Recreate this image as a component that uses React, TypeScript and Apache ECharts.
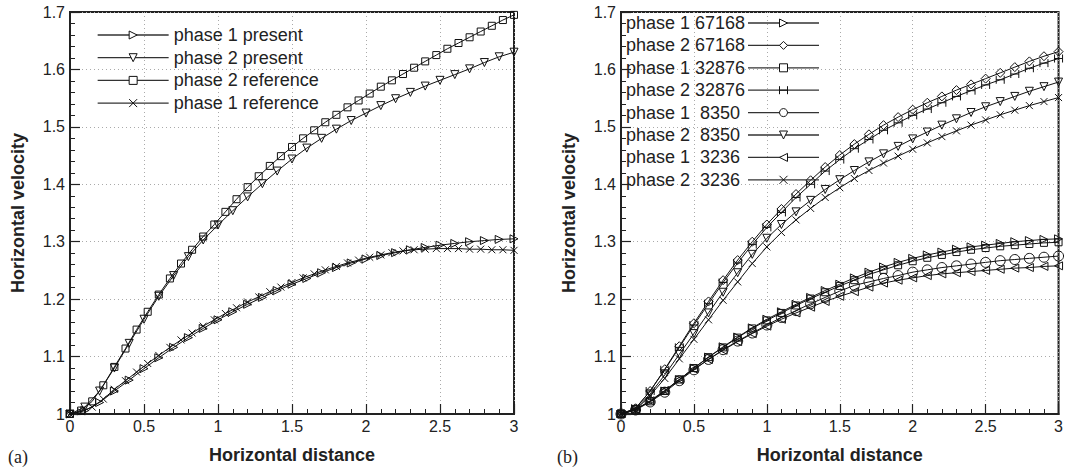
import React, { useEffect, useRef } from "react";
import * as echarts from "echarts";

// ---------- data ----------
const xStep01 = [0, 0.1, 0.2, 0.3, 0.4, 0.5, 0.6, 0.7, 0.8, 0.9, 1.0, 1.1, 1.2, 1.3, 1.4, 1.5, 1.6, 1.7, 1.8, 1.9, 2.0, 2.1, 2.2, 2.3, 2.4, 2.5, 2.6, 2.7, 2.8, 2.9, 3.0];
const xStep0075 = [0, 0.075, 0.15, 0.225, 0.3, 0.375, 0.45, 0.525, 0.6, 0.675, 0.75, 0.825, 0.9, 0.975, 1.05, 1.125, 1.2, 1.275, 1.35, 1.425, 1.5, 1.575, 1.65, 1.725, 1.8, 1.875, 1.95, 2.025, 2.1, 2.175, 2.25, 2.325, 2.4, 2.475, 2.55, 2.625, 2.7, 2.775, 2.85, 2.925, 3.0];

// (a) left panel
const aPhase1Present = [1.000, 1.006, 1.020, 1.040, 1.059, 1.079, 1.098, 1.116, 1.133, 1.149, 1.164, 1.178, 1.191, 1.203, 1.215, 1.226, 1.236, 1.246, 1.255, 1.263, 1.270, 1.276, 1.281, 1.286, 1.290, 1.294, 1.297, 1.300, 1.302, 1.304, 1.305];
const aPhase2Present = [1.000, 1.012, 1.040, 1.080, 1.123, 1.165, 1.205, 1.241, 1.274, 1.303, 1.329, 1.354, 1.378, 1.401, 1.423, 1.444, 1.463, 1.480, 1.496, 1.511, 1.524, 1.537, 1.549, 1.560, 1.571, 1.581, 1.591, 1.601, 1.612, 1.622, 1.630];
const aPhase2Reference = [1.000, 1.006, 1.022, 1.050, 1.082, 1.114, 1.147, 1.178, 1.208, 1.236, 1.262, 1.286, 1.309, 1.330, 1.352, 1.374, 1.395, 1.414, 1.432, 1.449, 1.465, 1.480, 1.494, 1.508, 1.521, 1.534, 1.546, 1.558, 1.570, 1.581, 1.592, 1.603, 1.614, 1.625, 1.636, 1.646, 1.656, 1.666, 1.676, 1.686, 1.695];
const aPhase1Reference = [1.000, 1.004, 1.012, 1.026, 1.043, 1.058, 1.073, 1.088, 1.102, 1.116, 1.129, 1.141, 1.153, 1.164, 1.175, 1.185, 1.195, 1.204, 1.213, 1.221, 1.229, 1.237, 1.244, 1.251, 1.257, 1.263, 1.268, 1.273, 1.277, 1.281, 1.284, 1.286, 1.287, 1.288, 1.288, 1.288, 1.287, 1.287, 1.286, 1.286, 1.285];

// (b) right panel
const bPhase1_67168 = [1.000, 1.008, 1.022, 1.040, 1.060, 1.080, 1.099, 1.117, 1.134, 1.150, 1.165, 1.178, 1.191, 1.203, 1.215, 1.226, 1.237, 1.247, 1.256, 1.264, 1.271, 1.277, 1.282, 1.287, 1.291, 1.294, 1.297, 1.300, 1.302, 1.304, 1.305];
const bPhase2_67168 = [1.000, 1.010, 1.040, 1.078, 1.118, 1.158, 1.196, 1.233, 1.268, 1.300, 1.330, 1.357, 1.383, 1.407, 1.430, 1.451, 1.470, 1.487, 1.503, 1.517, 1.530, 1.542, 1.553, 1.564, 1.574, 1.584, 1.594, 1.604, 1.614, 1.623, 1.631];
const bPhase1_32876 = [1.000, 1.008, 1.022, 1.040, 1.060, 1.080, 1.099, 1.116, 1.133, 1.149, 1.163, 1.176, 1.189, 1.201, 1.212, 1.223, 1.233, 1.243, 1.251, 1.259, 1.266, 1.272, 1.277, 1.282, 1.286, 1.289, 1.292, 1.294, 1.296, 1.298, 1.299];
const bPhase2_32876 = [1.000, 1.010, 1.040, 1.077, 1.116, 1.155, 1.192, 1.229, 1.263, 1.295, 1.325, 1.351, 1.377, 1.400, 1.423, 1.443, 1.462, 1.478, 1.494, 1.507, 1.520, 1.531, 1.542, 1.553, 1.563, 1.573, 1.582, 1.592, 1.602, 1.611, 1.619];
const bPhase1_8350 = [1.000, 1.007, 1.021, 1.038, 1.058, 1.077, 1.095, 1.112, 1.127, 1.141, 1.155, 1.168, 1.180, 1.192, 1.203, 1.214, 1.224, 1.230, 1.236, 1.241, 1.247, 1.251, 1.255, 1.258, 1.261, 1.264, 1.267, 1.269, 1.271, 1.273, 1.275];
const bPhase2_8350 = [1.000, 1.008, 1.035, 1.068, 1.104, 1.140, 1.176, 1.212, 1.246, 1.278, 1.306, 1.330, 1.352, 1.372, 1.391, 1.408, 1.424, 1.439, 1.453, 1.466, 1.479, 1.491, 1.503, 1.514, 1.525, 1.535, 1.544, 1.553, 1.562, 1.570, 1.578];
const bPhase1_3236 = [1.000, 1.008, 1.023, 1.041, 1.060, 1.078, 1.095, 1.111, 1.126, 1.140, 1.153, 1.165, 1.176, 1.186, 1.196, 1.205, 1.213, 1.221, 1.228, 1.233, 1.237, 1.241, 1.244, 1.246, 1.248, 1.250, 1.252, 1.254, 1.255, 1.257, 1.258];
const bPhase2_3236 = [1.000, 1.007, 1.032, 1.062, 1.096, 1.130, 1.164, 1.198, 1.230, 1.262, 1.291, 1.316, 1.338, 1.358, 1.377, 1.394, 1.410, 1.424, 1.437, 1.449, 1.461, 1.472, 1.483, 1.493, 1.503, 1.512, 1.521, 1.529, 1.537, 1.544, 1.551];

const xTicks = [0, 0.5, 1, 1.5, 2, 2.5, 3];
const yTicks = [1, 1.1, 1.2, 1.3, 1.4, 1.5, 1.6, 1.7];
const xTitle = "Horizontal distance";
const yTitle = "Horizontal velocity";
const legendA = ["phase 1 present", "phase 2 present", "phase 2 reference", "phase 1 reference"];
const legendB = ["phase 1 67168", "phase 2 67168", "phase 1 32876", "phase 2 32876", "phase 1  8350", "phase 2  8350", "phase 1  3236", "phase 2  3236"];

// ---------- symbols ----------
const SYM_RIGHT = "path://M0,0L10,5L0,10Z";
const SYM_LEFT = "path://M10,0L0,5L10,10Z";
const SYM_DOWN = "path://M0,0L10,0L5,9Z";
const SYM_CROSS = "path://M0,0L10,10M10,0L0,10";
const SYM_H = "path://M1,0L1,10M9,0L9,10M1,5L9,5";

const INK = "#111";
const SANS = "'Liberation Sans', Arial, Helvetica, sans-serif";
const HOLLOW = "rgba(255,255,255,0)";

function zip(xs: number[], ys: number[]) {
  return xs.map((x, i) => [x, ys[i]]);
}

function mk(name: string, xs: number[], ys: number[], symbol: string, gi: number, size = 8) {
  return {
    type: "line",
    name,
    xAxisIndex: gi,
    yAxisIndex: gi,
    data: zip(xs, ys),
    symbol,
    symbolSize: size,
    showSymbol: true,
    showAllSymbol: true,
    silent: true,
    lineStyle: { color: INK, width: 1 },
    itemStyle: { color: HOLLOW, borderColor: INK, borderWidth: 1 },
    emphasis: { disabled: true },
  };
}

function xAxis(gi: number) {
  return {
    type: "value",
    gridIndex: gi,
    min: 0,
    max: 3,
    interval: 0.5,
    name: xTitle,
    nameLocation: "middle",
    nameGap: 32,
    nameTextStyle: { fontFamily: SANS, fontWeight: "bold", fontSize: 18, color: "#222" },
    axisLine: { show: true, onZero: false, lineStyle: { color: "#222", width: 2 } },
    axisTick: { show: true, inside: true, length: 10, lineStyle: { color: "#222", width: 1.2 } },
    minorTick: { show: true, splitNumber: 5, length: 5, lineStyle: { color: "#222", width: 1 } },
    axisLabel: {
      fontFamily: SANS,
      fontSize: 16,
      color: "#222",
      margin: 4,
      formatter: (v: number) => String(xTicks.find((t) => Math.abs(t - v) < 1e-9) ?? v),
    },
    splitLine: { show: true, lineStyle: { color: "#aaa", type: [1, 3], width: 1 } },
  };
}

function yAxis(gi: number) {
  return {
    type: "value",
    gridIndex: gi,
    min: 1,
    max: 1.7,
    interval: 0.1,
    name: yTitle,
    nameLocation: "middle",
    nameGap: 43,
    nameTextStyle: { fontFamily: SANS, fontWeight: "bold", fontSize: 18, color: "#222" },
    axisLine: { show: true, onZero: false, lineStyle: { color: "#222", width: 2 } },
    axisTick: { show: true, inside: true, length: 10, lineStyle: { color: "#222", width: 1.2 } },
    minorTick: { show: true, splitNumber: 5, length: 5, lineStyle: { color: "#222", width: 1 } },
    axisLabel: {
      fontFamily: SANS,
      fontSize: 16,
      color: "#222",
      margin: 5,
      formatter: (v: number) => {
        const t = yTicks.find((k) => Math.abs(k - v) < 1e-9);
        return t === undefined ? "" : String(t);
      },
    },
    splitLine: { show: true, lineStyle: { color: "#aaa", type: [1, 3], width: 1 } },
  };
}

export default function App() {
  const ref = useRef<HTMLDivElement>(null);
  useEffect(() => {
    if (!ref.current) return;
    const chart = echarts.init(ref.current, null, { renderer: "svg" });
    const series = [
      mk(legendA[0], xStep01, aPhase1Present, SYM_RIGHT, 0),
      mk(legendA[1], xStep01, aPhase2Present, SYM_DOWN, 0),
      mk(legendA[2], xStep0075, aPhase2Reference, "rect", 0, 7),
      mk(legendA[3], xStep0075, aPhase1Reference, SYM_CROSS, 0, 7),
      mk(legendB[0], xStep01, bPhase1_67168, SYM_RIGHT, 1),
      mk(legendB[1], xStep01, bPhase2_67168, "diamond", 1, 9),
      mk(legendB[2], xStep01, bPhase1_32876, "rect", 1, 7),
      mk(legendB[3], xStep01, bPhase2_32876, SYM_H, 1, 8),
      mk(legendB[4], xStep01, bPhase1_8350, "circle", 1, 10),
      mk(legendB[5], xStep01, bPhase2_8350, SYM_DOWN, 1),
      mk(legendB[6], xStep01, bPhase1_3236, SYM_LEFT, 1),
      mk(legendB[7], xStep01, bPhase2_3236, SYM_CROSS, 1, 7),
    ];
    const legendText = { fontFamily: SANS, fontSize: 18, color: "#222", lineHeight: 18 };
    const legendItem = { color: "#fff", borderColor: INK, borderWidth: 1 };
    const legendLine = { color: "#333", width: 1.3 };
    chart.setOption({
      animation: false,
      backgroundColor: "#fff",
      grid: [
        { left: 70, top: 12, width: 444, height: 406, show: true, borderColor: "#222", borderWidth: 2, backgroundColor: "transparent" },
        { left: 621, top: 12, width: 444, height: 406, show: true, borderColor: "#222", borderWidth: 2, backgroundColor: "transparent" },
      ],
      xAxis: [xAxis(0), xAxis(1)],
      yAxis: [yAxis(0), yAxis(1)],
      legend: [
        {
          data: legendA,
          orient: "vertical",
          left: 97,
          top: 26,
          padding: 0,
          itemWidth: 71,
          itemHeight: 10,
          itemGap: 4.7,
          selectedMode: false,
          itemStyle: legendItem,
          lineStyle: legendLine,
          textStyle: legendText,
        },
        {
          data: legendB,
          orient: "vertical",
          align: "right",
          left: 626,
          top: 14,
          padding: 0,
          itemWidth: 71,
          itemHeight: 10,
          itemGap: 4.4,
          selectedMode: false,
          itemStyle: legendItem,
          lineStyle: legendLine,
          formatter: (name: string) => `{t|${name}}`,
          textStyle: {
            ...legendText,
            rich: { t: { width: 117, align: "left", fontFamily: SANS, fontSize: 18, color: "#222", lineHeight: 18 } },
          },
        },
      ],
      graphic: [
        { type: "text", left: 8, top: 448, style: { text: "(a)", font: "18px 'Liberation Serif', 'Times New Roman', serif", fill: "#222" } },
        { type: "text", left: 557, top: 448, style: { text: "(b)", font: "18px 'Liberation Serif', 'Times New Roman', serif", fill: "#222" } },
      ],
      series,
    });
    return () => chart.dispose();
  }, []);
  return <div ref={ref} style={{ position: "absolute", left: 0, top: 0, width: 1066, height: 469 }} />;
}
